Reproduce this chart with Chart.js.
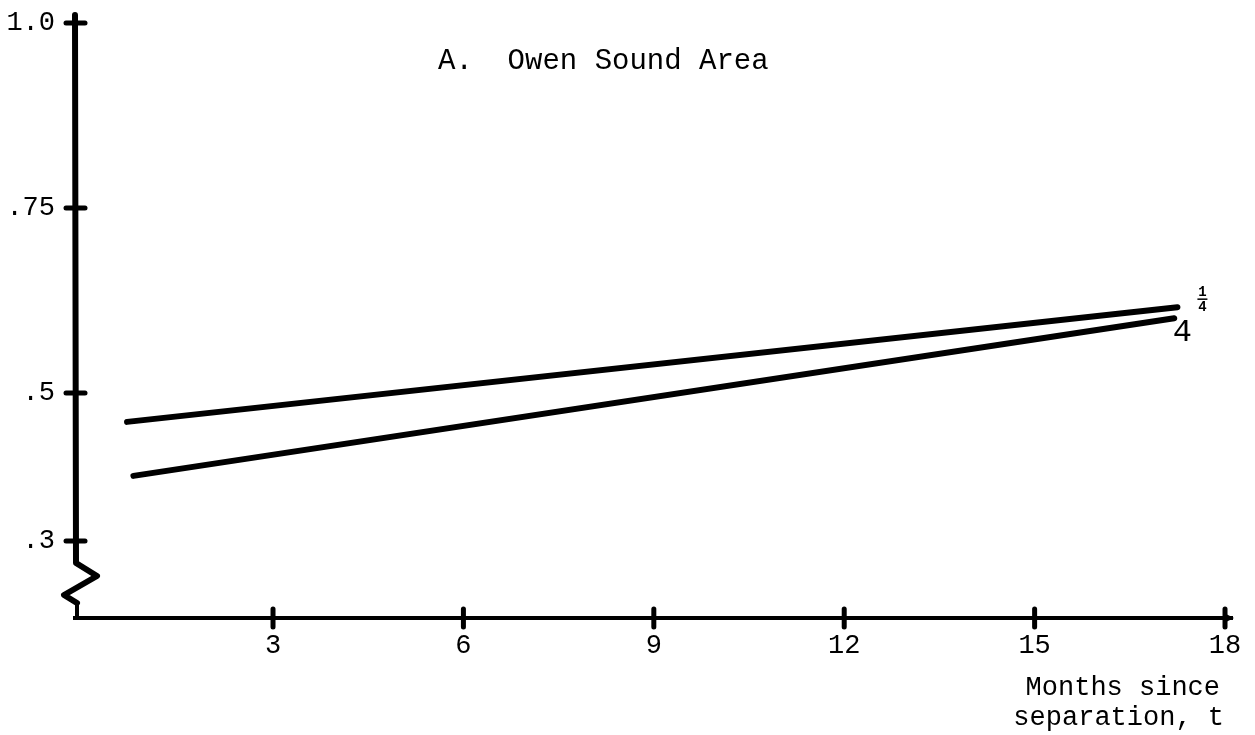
<!DOCTYPE html>
<html>
<head>
<meta charset="utf-8">
<title>Owen Sound Area</title>
<script src="https://cdn.jsdelivr.net/npm/chart.js@4/dist/chart.umd.min.js"></script>
<style>
    html, body { margin: 0; padding: 0; background: #fff; }
    #chart { display: block; }
</style>
</head>
<body>
<canvas id="chart" width="1255" height="735"></canvas>
<script>
const FONT = '"Liberation Mono", "Courier New", monospace';

const quarterMonths = [0.7, 17.25];
const quarterValues = [0.461, 0.616];
const fourMonths = [0.8, 17.2];
const fourValues = [0.388, 0.601];

const xTicks = [3, 6, 9, 12, 15, 18];
const yTicks = [0.3, 0.5, 0.75, 1.0];
const yTickLabels = ['.3', '.5', '.75', '1.0'];

const TITLE = 'A.  Owen Sound Area';
const X_TITLE = ['Months since', 'separation, t'];

function toPoints(months, values) {
    return months.map((m, i) => ({ x: m, y: values[i] }));
}

// hand-drawn style axes: crossing tick marks and the break on the vertical axis
const drawnAxes = {
    id: 'drawnAxes',
    afterDraw(chart) {
        const { ctx, chartArea, scales } = chart;
        const left = chartArea.left;
        const base = chartArea.bottom;

        ctx.save();
        ctx.strokeStyle = '#000';
        ctx.lineCap = 'round';
        ctx.lineJoin = 'round';

        ctx.lineWidth = 6;
        ctx.beginPath();
        ctx.moveTo(left, chartArea.top);
        ctx.lineTo(left + 1, base - 55);
        ctx.lineTo(left + 22, base - 42);
        ctx.lineTo(left - 11, base - 23);
        ctx.lineTo(left + 2, base - 15);
        ctx.stroke();

        ctx.lineWidth = 4;
        ctx.beginPath();
        ctx.moveTo(left + 2, base - 15);
        ctx.lineTo(left + 2, base);
        ctx.stroke();

        ctx.lineWidth = 5;
        yTicks.forEach((v) => {
            const py = scales.y.getPixelForValue(v);
            ctx.beginPath();
            ctx.moveTo(left - 9, py);
            ctx.lineTo(left + 10, py);
            ctx.stroke();
        });
        xTicks.forEach((v) => {
            const px = scales.x.getPixelForValue(v);
            ctx.beginPath();
            ctx.moveTo(px, base - 9);
            ctx.lineTo(px, base + 9);
            ctx.stroke();
        });

        // small arrow point at the end of the time axis
        ctx.fillStyle = '#000';
        ctx.beginPath();
        ctx.moveTo(chartArea.right + 2, base);
        ctx.lineTo(chartArea.right - 6, base - 4);
        ctx.lineTo(chartArea.right - 6, base + 4);
        ctx.closePath();
        ctx.fill();

        ctx.font = `29px ${FONT}`;
        ctx.textAlign = 'left';
        ctx.textBaseline = 'middle';
        ctx.fillText(TITLE, 438, 61);

        // axis name, two right-aligned lines under the last tick label
        ctx.font = `27px ${FONT}`;
        ctx.textAlign = 'right';
        ctx.fillText(X_TITLE[0], chartArea.right - 12, base + 70);
        ctx.fillText(X_TITLE[1], chartArea.right - 8, base + 100);

        // curve labels at the right-hand end of each line
        const endQuarter = chart.getDatasetMeta(0).data[1];
        const endFour = chart.getDatasetMeta(1).data[1];

        ctx.textAlign = 'center';
        ctx.font = `bold 14px ${FONT}`;
        ctx.fillText('1', endQuarter.x + 25, endQuarter.y - 15);
        ctx.fillText('4', endQuarter.x + 25, endQuarter.y);
        ctx.lineWidth = 1.5;
        ctx.lineCap = 'butt';
        ctx.beginPath();
        ctx.moveTo(endQuarter.x + 20, endQuarter.y - 8);
        ctx.lineTo(endQuarter.x + 30, endQuarter.y - 8);
        ctx.stroke();

        ctx.font = `32px ${FONT}`;
        ctx.fillText('4', endFour.x + 8, endFour.y + 14);

        ctx.restore();
    },
};

const lineStyle = {
    borderColor: '#000',
    borderWidth: 6,
    borderCapStyle: 'round',
    pointRadius: 0,
    fill: false,
};

new Chart(document.getElementById('chart'), {
    type: 'line',
    data: {
        datasets: [
            { label: '1/4', data: toPoints(quarterMonths, quarterValues), ...lineStyle },
            { label: '4', data: toPoints(fourMonths, fourValues), ...lineStyle },
        ],
    },
    options: {
        responsive: false,
        animation: false,
        layout: { padding: { top: 15, right: 23, left: 0, bottom: 0 } },
        plugins: {
            legend: { display: false },
            tooltip: { enabled: false },
        },
        scales: {
            x: {
                type: 'linear',
                min: -0.12,
                max: 18.11,
                afterFit: (scale) => {
                    scale.height = 117;
                    scale.paddingTop = 0;
                    scale.paddingBottom = 0;
                },
                afterBuildTicks: (scale) => { scale.ticks = xTicks.map((v) => ({ value: v })); },
                grid: { display: false, drawTicks: false },
                border: { display: true, color: '#000', width: 4 },
                ticks: {
                    color: '#000',
                    padding: 12,
                    maxRotation: 0,
                    font: { family: FONT, size: 27 },
                },
            },
            y: {
                type: 'linear',
                min: 0.196,
                max: 1.0108,
                afterFit: (scale) => {
                    scale.width = 75;
                    scale.paddingTop = 0;
                    scale.paddingBottom = 0;
                },
                afterBuildTicks: (scale) => { scale.ticks = yTicks.map((v) => ({ value: v })); },
                grid: { display: false, drawTicks: false },
                border: { display: false },
                ticks: {
                    color: '#000',
                    padding: 20,
                    font: { family: FONT, size: 27 },
                    callback: (value) => yTickLabels[yTicks.indexOf(value)] ?? '',
                },
            },
        },
    },
    plugins: [drawnAxes],
});
</script>
</body>
</html>
